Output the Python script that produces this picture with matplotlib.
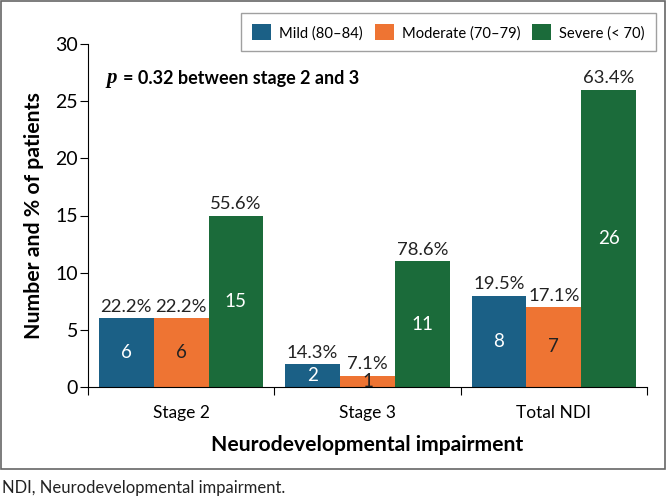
import numpy as np
import matplotlib.pyplot as plt
from matplotlib.patches import Rectangle

plt.rcParams['font.family'] = ['Lato', 'DejaVu Sans']

groups = ['Stage 2', 'Stage 3', 'Total NDI']
series = ['Mild (80\u201384)', 'Moderate (70\u201379)', 'Severe (< 70)']
mild = [6, 2, 8]
moderate = [6, 1, 7]
severe = [15, 11, 26]
mild_pct = ['22.2%', '14.3%', '19.5%']
moderate_pct = ['22.2%', '7.1%', '17.1%']
severe_pct = ['55.6%', '78.6%', '63.4%']

colors = ['#1b6086', '#ee7433', '#1b6b3a']
inner_text = ['white', '#222222', 'white']

fig = plt.figure(figsize=(6.7, 5), dpi=100)
ax = fig.add_axes([0.1313, 0.226, 0.8344, 0.686])

# outer frame around chart
fig.patches.append(Rectangle((0.0015, 0.062), 0.991, 0.936, transform=fig.transFigure,
                             fill=False, edgecolor='#666666', lw=1.2))

x = np.arange(1, len(groups) + 1)
w = 0.294
vals = [mild, moderate, severe]
pcts = [mild_pct, moderate_pct, severe_pct]
for i in range(3):
    xs = x + (i - 1) * w
    ax.bar(xs, vals[i], width=w, color=colors[i], label=series[i], zorder=2)
    for xx, v, p in zip(xs, vals[i], pcts[i]):
        ax.text(xx, v / 2, str(v), ha='center', va='center', color=inner_text[i], fontsize=13.5)
        ax.text(xx, v + 0.3, p, ha='center', va='bottom', color='#222222', fontsize=13.3)

ax.set_xlim(0.5, 3.5)
ax.set_ylim(0, 30)
ax.set_yticks(range(0, 31, 5))
ax.set_xticks([0.5, 1.5, 2.5, 3.5])
ax.set_xticklabels([])
ax.set_xticks(x, minor=True)
ax.set_xticklabels(groups, minor=True, fontsize=12.5)
ax.tick_params(axis='x', which='minor', length=0, pad=13)
ax.tick_params(axis='x', which='major', length=6, direction='out')
ax.tick_params(axis='y', length=6, direction='out', labelsize=14, pad=1)
for s in ['top', 'right']:
    ax.spines[s].set_visible(False)

ax.set_ylabel('Number and % of patients', fontsize=15.3, fontweight='bold', labelpad=8)
ax.set_xlabel('Neurodevelopmental impairment', fontsize=15.2, fontweight='bold', labelpad=10)

ax.text(0.6, 27.0, 'p', fontsize=15, fontstyle='italic', fontweight='bold',
        family='Liberation Serif', va='center', ha='left')
ax.text(0.69, 27.0, '= 0.32 between stage 2 and 3', fontsize=13, fontweight='bold',
        va='center', ha='left')

leg = fig.legend(loc='upper right', bbox_to_anchor=(0.99, 0.988), ncol=3, fontsize=10.6,
                 frameon=True, fancybox=False, edgecolor='#888888', handlelength=1.3,
                 handleheight=1.3, columnspacing=0.8, handletextpad=0.55, borderpad=0.75)
leg.get_frame().set_linewidth(1.0)

fig.text(0.003, 0.024, 'NDI, Neurodevelopmental impairment.', fontsize=12, color='#222222',
         va='center')

fig.savefig('out.png', dpi=100)
